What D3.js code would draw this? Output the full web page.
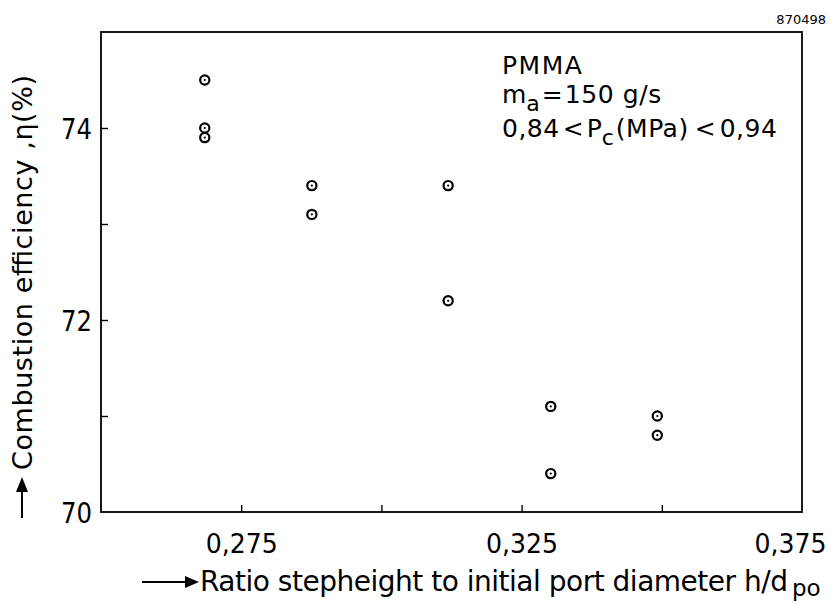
<!DOCTYPE html>
<html><head><meta charset="utf-8">
<script src="https://cdn.jsdelivr.net/npm/d3@7"></script>
<style>
body{margin:0;background:#fff;}
text{font-family:"DejaVu Sans",sans-serif;fill:#000;}
</style></head><body>
<svg id="c" width="831" height="604"></svg>
<script>
const ratio = [0.2685,0.2685,0.2685,0.2876,0.2876,0.3119,0.3119,0.3302,0.3302,0.3492,0.3492];
const efficiency = [74.5,74.0,73.9,73.4,73.1,73.4,72.2,71.1,70.4,71.0,70.8];
const xTicks = [0.275,0.325,0.375];
const xMinor = [0.275,0.3,0.325,0.35];
const yTicks = [70,72,74];
const yMinor = [71,72,73,74];

const svg = d3.select("#c");
const L=101,R=802,T=32,B=512;
const x = d3.scaleLinear().domain([0.25,0.375]).range([L,R]);
const y = d3.scaleLinear().domain([70,75]).range([B,T]);
const fmt = d => d3.format(".3f")(d).replace(".",",");

// frame
svg.append("rect").attr("x",L).attr("y",T).attr("width",R-L).attr("height",B-T)
  .attr("fill","none").attr("stroke","#000").attr("stroke-width",1.8);

// inward ticks
const gx = svg.append("g").attr("transform",`translate(0,${B})`)
  .call(d3.axisTop(x).tickValues(xMinor).tickSize(7).tickFormat(""));
gx.select(".domain").remove();
gx.selectAll("line").attr("stroke-width",1.4);
const gy = svg.append("g").attr("transform",`translate(${L},0)`)
  .call(d3.axisRight(y).tickValues(yMinor).tickSize(7).tickFormat(""));
gy.select(".domain").remove();
gy.selectAll("line").attr("stroke-width",1.4);

// tick labels
const gxl = svg.append("g").attr("transform",`translate(0,${B})`)
  .call(d3.axisBottom(x).tickValues(xTicks).tickSize(0).tickPadding(22).tickFormat(fmt));
gxl.select(".domain").remove();
gxl.selectAll("text").attr("font-size",27).attr("font-family",null)
  .attr("textLength",72).attr("lengthAdjust","spacingAndGlyphs")
  .attr("dx",(d,i)=> i===xTicks.length-1 ? -12 : 0);
const gyl = svg.append("g").attr("transform",`translate(${L},0)`)
  .call(d3.axisLeft(y).tickValues(yTicks).tickSize(0).tickPadding(9).tickFormat(d=>d));
gyl.select(".domain").remove();
gyl.selectAll("text").attr("font-size",29).attr("font-family",null).attr("dy","0.36em")
  .attr("textLength",31).attr("lengthAdjust","spacingAndGlyphs");

// points
const data = ratio.map((r,i)=>({r,e:efficiency[i]}));
const pts = svg.append("g");
pts.selectAll("circle.o").data(data).join("circle").attr("class","o")
  .attr("cx",d=>x(d.r)).attr("cy",d=>y(d.e)).attr("r",4.6)
  .attr("fill","none").attr("stroke","#000").attr("stroke-width",2.2);
pts.selectAll("circle.i").data(data).join("circle").attr("class","i")
  .attr("cx",d=>x(d.r)).attr("cy",d=>y(d.e)).attr("r",1.1)
  .attr("fill","#000");

// annotation
const ann = svg.append("g").attr("font-size",25);
ann.append("text").attr("x",502).attr("y",74).attr("letter-spacing",1.5).text("PMMA");
const t2 = ann.append("text").attr("x",502).attr("y",103);
t2.append("tspan").text("m");
t2.append("tspan").attr("dy",8).attr("font-size",22).text("a");
t2.append("tspan").attr("dy",-8).attr("dx",2).text("=");
t2.append("tspan").attr("dx",2).attr("letter-spacing",0.6).text("150 g/s");
const t3 = ann.append("text").attr("x",502).attr("y",137);
t3.append("tspan").attr("letter-spacing",0.5).text("0,84");
t3.append("tspan").attr("dx",3).text("<");
t3.append("tspan").attr("dx",3).text("P");
t3.append("tspan").attr("dy",8).attr("font-size",22).text("c");
t3.append("tspan").attr("dy",-8).attr("dx",2).attr("letter-spacing",0.5).text("(MPa)");
t3.append("tspan").attr("dx",6).text("<");
t3.append("tspan").attr("dx",4).attr("letter-spacing",0.5).text("0,94");

// id
svg.append("text").attr("x",826).attr("y",24).attr("text-anchor","end")
  .attr("font-size",13).text("870498");

// x label with arrow
const ay = 582;
svg.append("line").attr("x1",142).attr("x2",188).attr("y1",ay).attr("y2",ay)
  .attr("stroke","#000").attr("stroke-width",2);
svg.append("path").attr("d",`M185,${ay-6}L199,${ay}L185,${ay+6}Z`).attr("fill","#000");
svg.append("text").attr("x",200).attr("y",ay+9).attr("font-size",28)
  .attr("textLength",588).attr("lengthAdjust","spacing")
  .text("Ratio stepheight to initial port diameter h/d");
svg.append("text").attr("x",792).attr("y",ay+14).attr("font-size",23).text("po");

// y label with arrow
const axx = 22;
svg.append("line").attr("x1",axx).attr("x2",axx).attr("y1",518).attr("y2",488)
  .attr("stroke","#000").attr("stroke-width",2);
svg.append("path").attr("d",`M${axx-6},492L${axx},477L${axx+6},492Z`).attr("fill","#000");
svg.append("text").attr("transform",`translate(${axx+10},470) rotate(-90)`)
  .attr("font-size",27).attr("textLength",395).attr("lengthAdjust","spacing")
  .text("Combustion efficiency ,η(%)");
</script>
</body></html>
